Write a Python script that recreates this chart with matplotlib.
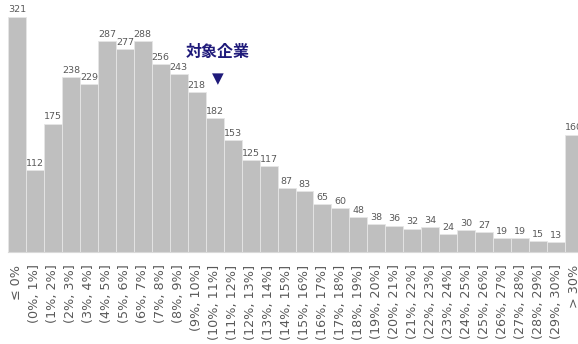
import matplotlib.pyplot as plt

# ROA buckets and number of companies
labels = ["≤ 0%"] + ["(%d%%, %d%%]" % (i, i + 1) for i in range(30)] + ["> 30%"]
counts = [321, 112, 175, 238, 229, 287, 277, 288, 256, 243, 218, 182, 153, 125,
          117, 87, 83, 65, 60, 48, 38, 36, 32, 34, 24, 30, 27, 19, 19, 15, 13, 160]
target_idx = 11
target_label = "対象企業"

fig = plt.figure(figsize=(5.78, 3.44), dpi=100)
ax = fig.add_axes([8 / 578, 92 / 344, 570 / 578, 252 / 344])

x = list(range(len(counts)))
ax.bar(x, counts, width=1.0, color="#bfbfbf", edgecolor="#e6e6e6", linewidth=0.6)

for xi, c in zip(x, counts):
    ax.text(xi, c + 3, str(c), ha="center", va="bottom", fontsize=6.8,
            color="#595959", clip_on=False)

ax.set_xlim(-0.5, -0.5 + 570 / 17.97)
ax.set_ylim(0, 252 / 0.7336)
ax.set_xticks(x)
ax.set_xticklabels(labels, rotation=90, fontsize=9.2, color="#595959")
ax.tick_params(axis="x", length=0, pad=9)
ax.set_yticks([])
for s in ["left", "right", "top"]:
    ax.spines[s].set_visible(False)
ax.spines["bottom"].set_color("#d9d9d9")

# marker for the target company
ax.text(target_idx + 0.15, 273, target_label, ha="center", va="center",
        fontsize=11.5, fontweight="bold", color="#1f1a7a",
        family=["Noto Sans CJK JP", "DejaVu Sans"])
ax.text(target_idx + 0.15, 236, "▼", ha="center", va="center",
        fontsize=11, color="#1f1a7a")

fig.savefig("out.png", dpi=100)
